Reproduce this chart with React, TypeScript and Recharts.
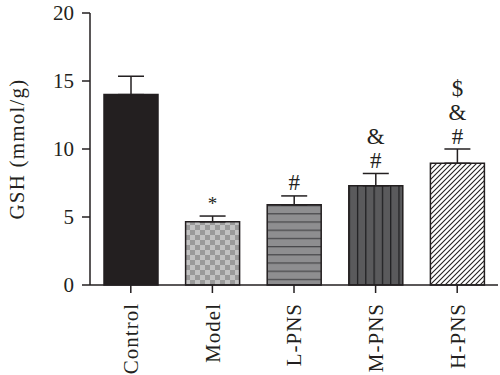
import { BarChart, Bar, XAxis, YAxis, ErrorBar, Cell, LabelList } from 'recharts';

const groups = ['Control', 'Model', 'L-PNS', 'M-PNS', 'H-PNS'];
const gsh = [14.0, 4.65, 5.9, 7.3, 8.95];
const sem = [1.35, 0.42, 0.65, 0.9, 1.05];
// significance marks, stacked from bottom to top
const marks = [[], ['*'], ['#'], ['#', '&'], ['#', '&', '$']];
const fills = ['#231f20', 'url(#checker)', 'url(#hlines)', 'url(#vlines)', 'url(#diag)'];
const yTicks = [0, 5, 10, 15, 20];

const data = groups.map((g, i) => ({ name: g, gsh: gsh[i], err: [0, sem[i]] }));

const ink = '#231f20';
const serif = 'Liberation Serif, serif';

function CategoryTick({ x, y, payload }: any) {
  return (
    <g transform={`translate(${x},${y})`}>
      <text
        transform="rotate(-90)"
        x={-8}
        dy="0.35em"
        textAnchor="end"
        fill={ink}
        fontSize={21}
        letterSpacing={1}
        fontFamily={serif}
      >
        {payload.value}
      </text>
    </g>
  );
}

function MarkLabel({ x, y, width, height, index }: any) {
  const list = marks[index] || [];
  if (!list.length) return null;
  const perUnit = height / gsh[index];
  const errTop = y - sem[index] * perUnit;
  const cx = x + width / 2;
  return (
    <g>
      {list.map((m, k) => (
        <text
          key={k}
          x={cx}
          y={errTop - 13 - k * 24}
          textAnchor="middle"
          dominantBaseline="central"
          fill={ink}
          fontSize={m === '*' ? 19 : 23}
          fontFamily={serif}
        >
          {m}
        </text>
      ))}
    </g>
  );
}

export default function App() {
  return (
    <div style={{ position: 'absolute', left: 0, top: 0, background: '#fff' }}>
      <BarChart
        width={500}
        height={375}
        data={data}
        margin={{ top: 13, right: 2, left: 0, bottom: 0 }}
        barSize={54}
      >
        <defs>
          <pattern id="checker" patternUnits="userSpaceOnUse" width={10} height={10}>
            <rect width={10} height={10} fill="#c2c2c2" />
            <rect width={5} height={5} fill="#9a9a9a" />
            <rect x={5} y={5} width={5} height={5} fill="#9a9a9a" />
          </pattern>
          <pattern id="hlines" patternUnits="userSpaceOnUse" width={8} height={8.2}>
            <rect width={8} height={8.2} fill="#8e8e90" />
            <line x1={0} y1={0.5} x2={8} y2={0.5} stroke="#47474a" strokeWidth={1.5} />
          </pattern>
          <pattern id="vlines" patternUnits="userSpaceOnUse" width={8.3} height={8}>
            <rect width={8.3} height={8} fill="#5a5a5c" />
            <line x1={0.5} y1={0} x2={0.5} y2={8} stroke="#1e1e20" strokeWidth={1.5} />
          </pattern>
          <pattern id="diag" patternUnits="userSpaceOnUse" width={5} height={5}>
            <rect width={5} height={5} fill="#fff" />
            <path d="M-1,1 l2,-2 M0,5 l5,-5 M4,6 l2,-2" stroke={ink} strokeWidth={1.1} />
          </pattern>
        </defs>
        <XAxis
          dataKey="name"
          height={90}
          interval={0}
          tick={<CategoryTick />}
          tickSize={8}
          axisLine={{ stroke: ink, strokeWidth: 1.5 }}
          tickLine={{ stroke: ink, strokeWidth: 1.5 }}
        />
        <YAxis
          width={90}
          domain={[0, 20]}
          ticks={yTicks}
          tickSize={8}
          tickMargin={8}
          axisLine={{ stroke: ink, strokeWidth: 1.5 }}
          tickLine={{ stroke: ink, strokeWidth: 1.5 }}
          tick={{ fill: ink, fontSize: 21, fontFamily: serif }}
          label={{
            value: 'GSH (mmol/g)',
            angle: -90,
            position: 'insideLeft',
            dx: 12,
            style: { fill: ink, fontSize: 21, fontFamily: serif, letterSpacing: 1.2, textAnchor: 'middle' },
          }}
        />
        <Bar dataKey="gsh" stroke={ink} strokeWidth={1.5} isAnimationActive={false}>
          {data.map((d, i) => (
            <Cell key={d.name} fill={fills[i]} />
          ))}
          <ErrorBar dataKey="err" width={13} stroke={ink} strokeWidth={1.5} />
          <LabelList dataKey="gsh" content={<MarkLabel />} />
        </Bar>
      </BarChart>
    </div>
  );
}
